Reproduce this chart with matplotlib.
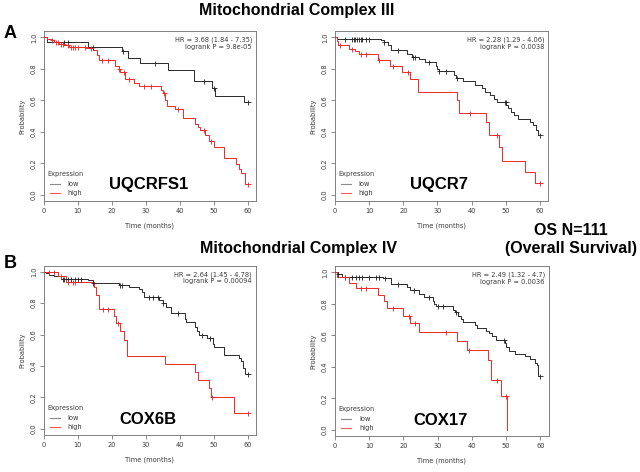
import numpy as np
import matplotlib
matplotlib.use("Agg")
import matplotlib.pyplot as plt

# ---------------- data ----------------
# Panel A1: UQCRFS1
a1_low_t = [0, 1, 13, 23, 24.8, 28.4, 36.5, 44.3, 49.6, 50.5, 59]
a1_low_s = [1.0, 0.97, 0.94, 0.91, 0.87, 0.835, 0.795, 0.72, 0.68, 0.63, 0.59]
a1_low_c = [6, 7, 14.5, 23.2, 32.8, 47.3, 50, 60]
a1_high_t = [0, 1, 2, 3, 4.5, 6, 7.5, 12.5, 14.5, 15.5, 16.1, 21, 22, 22.5, 24, 26.5, 28,
             34.5, 35, 35.7, 36.2, 38.5, 41, 44.6, 45.3, 46, 47.5, 48.5, 50, 53, 56.5, 57.5, 58.2, 59.2]
a1_high_s = [1.0, 0.99, 0.98, 0.97, 0.96, 0.95, 0.94, 0.93, 0.92, 0.89, 0.855, 0.82, 0.80, 0.78, 0.735,
             0.71, 0.69, 0.665, 0.645, 0.60, 0.565, 0.545, 0.49, 0.45, 0.43, 0.41, 0.38, 0.34, 0.30,
             0.235, 0.195, 0.165, 0.135, 0.07]
a1_high_c = [2.5, 3.5, 4, 5, 5.5, 7, 8, 8.5, 9, 10, 12, 14, 17, 19, 22.2, 23.5, 25, 29.5, 31.5,
             35.3, 39.5, 47.3, 49.3, 60]

# Panel A2: UQCR7
a2_low_t = [0, 0.5, 13.5, 14.5, 15.5, 16.5, 21, 22.5, 24.5, 26.5, 29.5, 30, 30.5, 35, 35.5, 37.5,
            41, 43, 44, 45.5, 46.5, 47.5, 50.2, 50.6, 51.5, 52.5, 53.5, 57, 58, 59, 59.5]
a2_low_s = [1.0, 0.99, 0.98, 0.97, 0.95, 0.92, 0.895, 0.872, 0.86, 0.845, 0.82, 0.80, 0.785, 0.762,
            0.74, 0.72, 0.70, 0.675, 0.655, 0.634, 0.61, 0.59, 0.57, 0.55, 0.527, 0.505, 0.48,
            0.462, 0.44, 0.41, 0.378]
a2_low_c = [3, 5, 5.5, 6, 6.5, 7, 7.5, 8, 9, 10, 14.5, 18.5, 22.8, 23.3, 27.5, 30.5, 32.5, 35.7,
            49.8, 50.1, 60]
a2_high_t = [0, 0.5, 1, 4, 6, 7, 12.5, 16, 19.5, 22, 24.4, 35.6, 36.4, 44.2, 45, 48.1, 49, 55.7, 58.5]
a2_high_s = [1.0, 0.975, 0.95, 0.925, 0.91, 0.895, 0.855, 0.82, 0.78, 0.735, 0.65, 0.60, 0.517,
             0.46, 0.378, 0.30, 0.215, 0.145, 0.072]
a2_high_c = [1.5, 5, 7.5, 9, 13, 17, 21.5, 39.5, 47.5, 60]

# Panel B1: COX6B
b1_low_t = [0, 0.5, 1.5, 3, 5, 13, 14.5, 22, 25, 28, 28.8, 29.5, 34, 35, 36, 37.5, 41.5, 42,
            44.5, 45, 45.7, 48, 49.8, 50.1, 53, 57.5, 58, 58.7, 59.3]
b1_low_s = [1.0, 0.99, 0.98, 0.97, 0.957, 0.945, 0.93, 0.915, 0.90, 0.889, 0.872, 0.84, 0.82,
            0.80, 0.776, 0.74, 0.70, 0.677, 0.65, 0.623, 0.596, 0.575, 0.54, 0.52, 0.47, 0.45,
            0.43, 0.39, 0.35]
b1_low_c = [5.5, 6, 7, 8, 9, 10, 11, 14.5, 22.5, 23, 31, 32, 33.5, 35.2, 39.5, 46.5, 49, 60]
b1_high_t = [0, 4, 6.5, 14.7, 15.3, 16.1, 20.5, 21.3, 22.5, 23.5, 24.5, 35.7, 44.5, 45.5, 48.7, 49.3, 56]
b1_high_s = [1.0, 0.97, 0.938, 0.90, 0.85, 0.766, 0.72, 0.672, 0.62, 0.564, 0.464, 0.415, 0.364,
             0.31, 0.257, 0.205, 0.102]
b1_high_c = [1.5, 3, 5, 7, 8.5, 9, 17.5, 19, 21.8, 49.5, 60]

# Panel B2: COX17
b2_low_t = [0, 1, 2, 14, 16.5, 21, 22, 24.5, 26, 28.5, 29, 29.5, 34.5, 35.2, 36, 36.8, 37.5, 41,
            41.5, 44, 45, 46, 47, 49.8, 50, 51, 52.5, 55.5, 57, 58.5, 59, 59.3]
b2_low_s = [1.0, 0.99, 0.972, 0.962, 0.926, 0.905, 0.89, 0.862, 0.841, 0.82, 0.80, 0.788, 0.763,
            0.746, 0.725, 0.705, 0.686, 0.665, 0.644, 0.629, 0.614, 0.593, 0.572, 0.55, 0.523,
            0.50, 0.481, 0.466, 0.449, 0.425, 0.41, 0.343]
b2_low_c = [1, 3, 5, 6, 7, 8, 10, 12, 13, 14.5, 18.5, 23, 27.5, 30, 31.5, 35.5, 49.5, 60]
b2_high_t = [0, 0.5, 4, 6, 12.5, 14.3, 15.3, 20, 22, 24.5, 35.7, 38.5, 44.8, 45.5, 48.5, 50.3]
b2_high_s = [1.0, 0.97, 0.932, 0.898, 0.856, 0.815, 0.771, 0.725, 0.678, 0.619, 0.566, 0.508,
             0.445, 0.318, 0.212, 0.0]
b2_high_c = [3, 7.5, 9, 17, 21.7, 23.5, 32.5, 39.3, 47.3, 50.0]

genes = ["UQCRFS1", "UQCR7", "COX6B", "COX17"]
hr_text = ["HR = 3.68 (1.84 - 7.35)", "HR = 2.28 (1.29 - 4.06)",
           "HR = 2.64 (1.45 - 4.78)", "HR = 2.49 (1.32 - 4.7)"]
p_text = ["logrank P = 9.8e-05", "logrank P = 0.0038",
          "logrank P = 0.00094", "logrank P = 0.0036"]
x_ticks = [0, 10, 20, 30, 40, 50, 60]
y_ticks = [0.0, 0.2, 0.4, 0.6, 0.8, 1.0]

panels = [
    (a1_low_t, a1_low_s, a1_low_c, a1_high_t, a1_high_s, a1_high_c),
    (a2_low_t, a2_low_s, a2_low_c, a2_high_t, a2_high_s, a2_high_c),
    (b1_low_t, b1_low_s, b1_low_c, b1_high_t, b1_high_s, b1_high_c),
    (b2_low_t, b2_low_s, b2_low_c, b2_high_t, b2_high_s, b2_high_c),
]

# ---------------- layout ----------------
W, H = 640, 472
def rect(l, r, t, b):
    return [l / W, (H - b) / H, (r - l) / W, (b - t) / H]

rects = [rect(44, 255.7, 31, 201), rect(335, 548, 31, 201),
         rect(44, 255.7, 265.5, 435), rect(335, 548.5, 266, 436)]
gene_pos = [(0.496, 0.10), (0.488, 0.10), (0.491, 0.094), (0.496, 0.094)]

small = dict(family="DejaVu Sans", fontsize=4.8, color="#3a3a3a")
bold_font = ["Liberation Sans", "Arial", "DejaVu Sans"]

fig = plt.figure(figsize=(6.4, 4.72), dpi=100)

def step_val(t_arr, s_arr, x):
    idx = np.searchsorted(np.asarray(t_arr), x, side="right") - 1
    return np.asarray(s_arr)[idx]

def draw_curve(ax, t, s, c, color):
    end = 60
    if s[-1] == 0:
        end = t[-1]
    tt = list(t) + [end]
    ss = list(s) + [s[-1]]
    ax.step(tt, ss, where="post", color=color, lw=0.7, zorder=3)
    cy = step_val(t, s, np.asarray(c))
    ax.plot(c, cy, ls="none", marker="+", ms=3.6, mew=0.65, color=color, zorder=4)

for i, (ax_rect, data) in enumerate(zip(rects, panels)):
    ax = fig.add_axes(ax_rect)
    lt, ls_, lc, ht, hs, hc = data
    draw_curve(ax, lt, ls_, lc, "#2a2a2a")
    draw_curve(ax, ht, hs, hc, "#f02828")
    ax.set_xlim(0, 62.4)
    ax.set_ylim(-0.04, 1.04)
    ax.set_xticks(x_ticks)
    ax.set_yticks(y_ticks)
    ax.set_xticklabels([str(v) for v in x_ticks], **small)
    ax.set_yticklabels(["%.1f" % v for v in y_ticks], rotation=90, va="center", **small)
    ax.tick_params(length=3, width=0.6, color="#777777", pad=2)
    for sp in ax.spines.values():
        sp.set_color("#808080")
        sp.set_linewidth(0.7)
    ax.set_xlabel("Time (months)", labelpad=6, **small)
    ax.set_ylabel("Probability", labelpad=4, **small)
    ax.text(0.983, 0.947, hr_text[i], transform=ax.transAxes, ha="right", va="center", **small)
    ax.text(0.983, 0.906, p_text[i], transform=ax.transAxes, ha="right", va="center", **small)
    # legend
    ax.text(0.014, 0.159, "Expression", transform=ax.transAxes, ha="left", va="center", **small)
    ax.plot([0.028, 0.076], [0.10, 0.10], transform=ax.transAxes, color="#8a8a8a", lw=0.8)
    ax.plot([0.028, 0.076], [0.047, 0.047], transform=ax.transAxes, color="#ff5a5a", lw=0.8)
    ax.text(0.112, 0.10, "low", transform=ax.transAxes, ha="left", va="center", **small)
    ax.text(0.112, 0.047, "high", transform=ax.transAxes, ha="left", va="center", **small)
    gx, gy = gene_pos[i]
    ax.text(gx, gy, genes[i], transform=ax.transAxes, ha="center", va="center",
            family=bold_font, fontweight="bold", fontsize=12, color="black")

fig.text(297 / W, 1 - 10 / H, "Mitochondrial Complex III", ha="center", va="center",
         family=bold_font, fontweight="bold", fontsize=11.5)
fig.text(298.5 / W, 1 - 249 / H, "Mitochondrial Complex IV", ha="center", va="center",
         family=bold_font, fontweight="bold", fontsize=11.5)
fig.text(3.5 / W, 1 - 33 / H, "A", ha="left", va="center",
         family=bold_font, fontweight="bold", fontsize=13)
fig.text(3.5 / W, 1 - 263.5 / H, "B", ha="left", va="center",
         family=bold_font, fontweight="bold", fontsize=13)
fig.text(570.5 / W, 1 - 231 / H, "OS N=111", ha="center", va="center",
         family=bold_font, fontweight="bold", fontsize=11.5)
fig.text(571 / W, 1 - 249 / H, "(Overall Survival)", ha="center", va="center",
         family=bold_font, fontweight="bold", fontsize=11.5)

fig.savefig("out.png", dpi=100)
